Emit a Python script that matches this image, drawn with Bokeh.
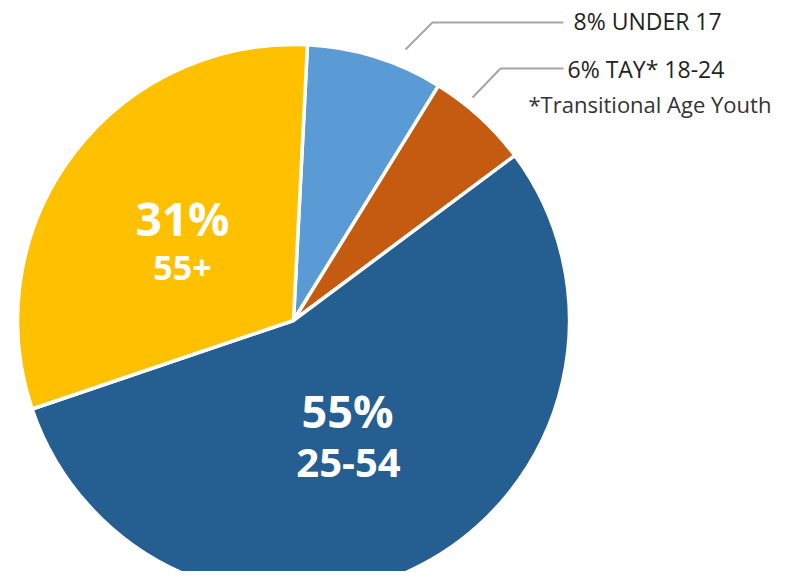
import math
from bokeh.plotting import figure
from bokeh.models import Range1d, ColumnDataSource
from bokeh.core.properties import value
from bokeh.embed import file_html
from bokeh.resources import INLINE

# Data
categories = ["UNDER 17", "TAY* 18-24", "25-54", "55+"]
shares = [8, 6, 55, 31]
colors = ["#5B9BD5", "#C55A11", "#255E91", "#FFC000"]
footnote = "*Transitional Age Youth"

W, H = 784, 571

def px(x):
    return x
def py(y):
    return 587 - y

p = figure(width=W, height=H, output_backend="svg", toolbar_location=None,
           x_range=Range1d(0, W), y_range=Range1d(587 - H, 587),
           min_border=0)
p.axis.visible = False
p.grid.visible = False
p.outline_line_color = None
p.background_fill_color = "white"
p.border_fill_color = "white"

cx, cy, r = 293, 320, 276
offset = math.radians(2.9)
total = sum(shares)
starts, ends = [], []
cum = 0
for s in shares:
    a0 = math.pi / 2 - offset - 2 * math.pi * cum / total
    a1 = a0 - 2 * math.pi * s / total
    starts.append(a1)
    ends.append(a0)
    cum += s

src = ColumnDataSource(dict(x=[px(cx)] * 4, y=[py(cy)] * 4, start=starts, end=ends,
                            color=colors, cat=categories))
p.wedge(x="x", y="y", radius=r, start_angle="start", end_angle="end",
        fill_color="color", line_color="white", line_width=3.5, source=src)

# Leader lines
p.line([px(405), px(432), px(563)], [py(49), py(22), py(22)], line_color="#A6A6A6", line_width=2)
p.line([px(472), px(500), px(563)], [py(97), py(68), py(68)], line_color="#A6A6A6", line_width=2)

# Outside labels
p.text(x=[px(573)], y=[py(20)], text=[f"{shares[0]}% {categories[0]}"],
       text_font=value("Open Sans"), text_font_size="23px", text_color="#231F20",
       text_baseline="middle", text_align="left")
p.text(x=[px(567)], y=[py(68)], text=[f"{shares[1]}% {categories[1]}"],
       text_font=value("Open Sans"), text_font_size="23px", text_color="#231F20",
       text_baseline="middle", text_align="left")
p.text(x=[px(528)], y=[py(103)], text=[footnote],
       text_font=value("Open Sans"), text_font_size="22px", text_color="#333333",
       text_baseline="middle", text_align="left")

# Inside labels
p.text(x=[px(182)], y=[py(217)], text=[f"{shares[3]}%"],
       text_font=value("Open Sans"), text_font_size="46px", text_font_style="bold",
       text_color="white", text_baseline="middle", text_align="center")
p.text(x=[px(182)], y=[py(267)], text=[categories[3]],
       text_font=value("Open Sans"), text_font_size="34px", text_font_style="bold",
       text_color="white", text_baseline="middle", text_align="center")
p.text(x=[px(347)], y=[py(410)], text=[f"{shares[2]}%"],
       text_font=value("Open Sans"), text_font_size="45px", text_font_style="bold",
       text_color="white", text_baseline="middle", text_align="center")
p.text(x=[px(348)], y=[py(462)], text=[categories[2]],
       text_font=value("Open Sans"), text_font_size="40px", text_font_style="bold",
       text_color="white", text_baseline="middle", text_align="center")

open("out.html", "w").write(file_html(p, INLINE))
